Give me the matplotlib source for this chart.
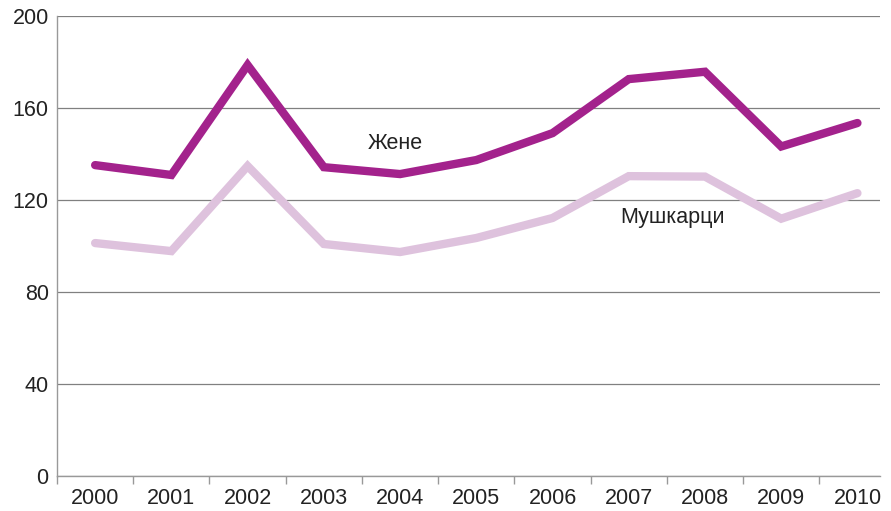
import matplotlib
matplotlib.use("Agg")
import matplotlib.pyplot as plt
import numpy as np

plt.rcParams['font.family'] = ['Liberation Sans', 'DejaVu Sans']

years = ['2000', '2001', '2002', '2003', '2004', '2005', '2006', '2007', '2008', '2009', '2010']
zene = [135.2, 130.9, 178.7, 134.3, 131.3, 137.4, 149.1, 172.6, 175.8, 143.3, 153.5]
muskarci = [101.3, 97.8, 134.8, 100.9, 97.4, 103.5, 112.2, 130.4, 130.2, 111.9, 123.0]

fig = plt.figure(figsize=(8.91, 5.11), dpi=100)
ax = fig.add_axes([0.064, 0.0685, 0.924, 0.9])

x = np.arange(len(years))
ax.plot(x, muskarci, color='#DEC2DD', lw=6, solid_joinstyle='miter', solid_capstyle='round', zorder=3)
ax.plot(x, zene, color='#A3228C', lw=6, solid_joinstyle='miter', solid_capstyle='round', zorder=4)

ax.text(3.94, 144.8, 'Жене', fontsize=15.5, ha='center', va='center', color='#222222')
ax.text(7.58, 112.2, 'Мушкарци', fontsize=15.5, ha='center', va='center', color='#222222')

ax.set_xlim(-0.5, 10.3)
ax.set_ylim(0, 200)
ax.set_yticks([0, 40, 80, 120, 160, 200])
ax.yaxis.grid(True, color='#808080', lw=0.9)
ax.set_axisbelow(True)

ax.set_xticks(x)
ax.set_xticklabels(years)
ax.set_xticks(np.arange(-0.5, 10.5, 1), minor=True)
ax.tick_params(axis='x', which='major', length=0, pad=9, labelsize=15.5, colors='#222222')
ax.tick_params(axis='x', which='minor', length=6, width=1, color='#999999', direction='out')
ax.tick_params(axis='y', length=0, pad=6, labelsize=15.5, colors='#222222')

for side in ['top', 'right']:
    ax.spines[side].set_visible(False)
for side in ['left', 'bottom']:
    ax.spines[side].set_color('#999999')
    ax.spines[side].set_linewidth(1)

fig.savefig('out.png', dpi=100)
